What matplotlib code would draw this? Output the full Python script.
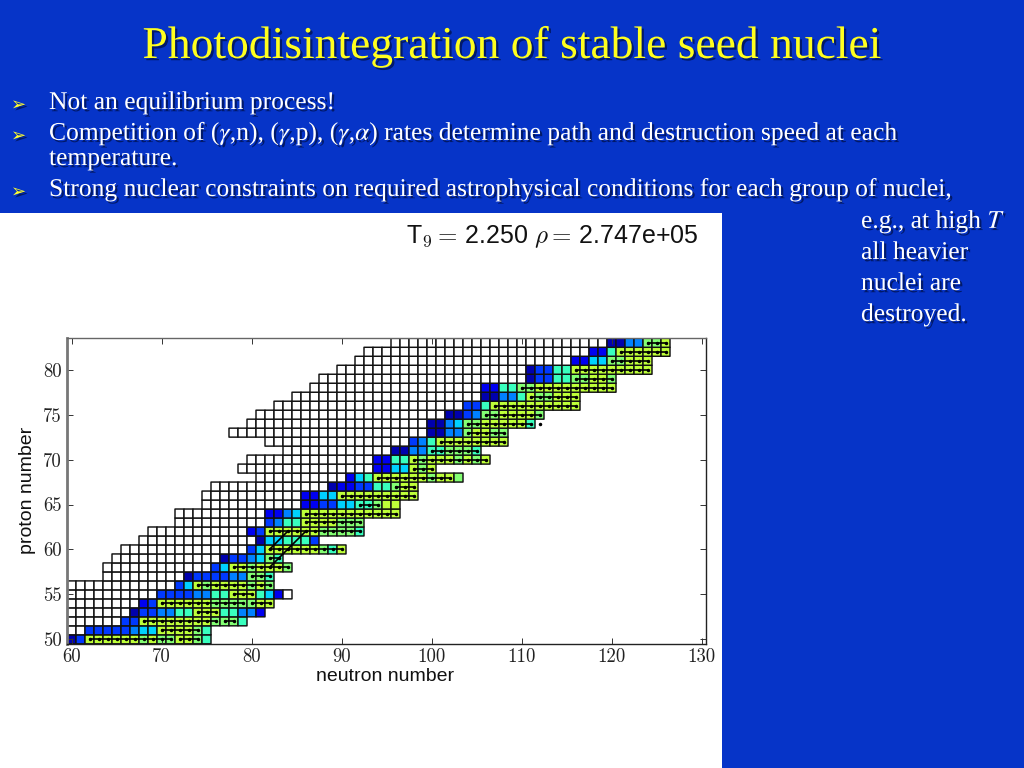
import numpy as np
import matplotlib
matplotlib.use('Agg')
import matplotlib.pyplot as plt
import matplotlib.patheffects as pe
from matplotlib.patches import Rectangle

# proton number of each row of the chart
z_rows = list(range(50, 84))
# first cell of the row, first cell that has a colour
first_n = [60, 60, 60, 60, 60, 60, 60, 64, 64, 65, 66, 68, 69, 72, 72, 75, 75,
           76, 81, 79, 80, 84, 82, 78, 80, 81, 83, 85, 87, 88, 90, 92, 93, 96]
first_col = [60, 62, 66, 67, 68, 70, 72, 73, 76, 77, 80, 81, 80, 82, 82, 86, 86,
             89, 91, 94, 94, 96, 98, 100, 100, 102, 104, 106, 106, 111, 111, 116, 118, 120]
# colour level of the cells from first_col on, 0 is a white cell
levels = ['1388888878778876', '33333455888876', '33888888887776', '133446688866442',
          '238888887777788', '333344668886520', '35878888787', '1333344776',
          '358878887', '1334576', '35888888768', '1556663',
          '2388888877776', '34668888777', '224588888888888', '22335566788',
          '2255888888888', '1223366788', '2568888887887', '2255878',
          '2266878887878', '1144667776', '34688888888', '114478877',
          '114577888886', '11347788887', '3368888888888', '11446877888',
          '226677888888888', '1336677887', '13366888888888', '225577888',
          '226888888', '1144778']
# jet position of a level
level_pos = [-1, 0.04, 0.1, 0.18, 0.25, 0.33, 0.42, 0.51, 0.58]

# black isotope lines: row, from, to
line_z = [50, 50, 51, 52, 52, 53, 54, 54, 55, 56, 57, 58, 59, 60, 62, 63, 64, 65, 66,
          67, 68, 69, 70, 71, 72, 73, 74, 75, 76, 77, 78, 79, 80, 81, 82, 83]
line_from = [62, 72, 70, 68, 77, 74, 70, 80, 78, 74, 80, 78, 82, 82, 82, 86, 86, 92, 90,
             96, 94, 98, 98, 100, 101, 104, 104, 106, 107, 111, 110, 116, 116, 120, 121, 124]
line_to = [71, 74, 74, 76, 78, 76, 79, 82, 80, 82, 82, 84, 83, 90, 92, 92, 96, 94, 98,
           98, 102, 100, 106, 105, 108, 108, 111, 112, 116, 116, 120, 120, 124, 124, 126, 126]
# the two slanted lines near N=82
flow_n = [[82, 84], [82, 86]]
flow_z = [[60, 62], [58, 62]]
lone_n = [112]
lone_z = [74]

x_ticks = [60, 70, 80, 90, 100, 110, 120, 130]
y_ticks = [50, 55, 60, 65, 70, 75, 80]

title = 'Photodisintegration of stable seed nuclei'
bullets = ['Not an equilibrium process!',
           'Competition of ($\\gamma$,n), ($\\gamma$,p), ($\\gamma$,$\\alpha$) rates determine path and destruction speed at each',
           'temperature.',
           'Strong nuclear constraints on required astrophysical conditions for each group of nuclei,']
side_text = ['e.g., at high $T$', 'all heavier', 'nuclei are', 'destroyed.']

W, H = 1024, 768
plt.rcParams['mathtext.fontset'] = 'cm'
blue = '#0634c8'
fig = plt.figure(figsize=(W / 100, H / 100), dpi=100, facecolor=blue)
fig.patches.append(Rectangle((0, 0), 722 / W, (H - 213) / H, transform=fig.transFigure,
                             facecolor='white', edgecolor='none', zorder=-1))

# slide text
shadow = [pe.withSimplePatchShadow(offset=(1.6, -1.6), shadow_rgbFace='#00104a', alpha=0.75)]
def slide_text(x, y, s, size, color='white', **kw):
    kw.setdefault('family', 'Liberation Serif')
    return fig.text(x / W, 1 - y / H, s, fontsize=size, color=color, va='baseline',
                    math_fontfamily='stix', path_effects=shadow, **kw)

slide_text(512, 58, title, 32.8, color='#ffff1e', ha='center')
for y, s in zip([109, 140, 165, 196], bullets):
    slide_text(49, y, s, 18.4)
for y in [109, 140, 196]:
    slide_text(11, y + 1, '\u27a2', 13, color='#ffff30', family='DejaVu Sans')
for y, s in zip([228, 259, 290, 321], side_text):
    slide_text(861, y, s, 18.4)

# chart, 9 px per nucleus
left, right, top, bottom = 67, 706, 338.3, 643.8
ax = fig.add_axes([left / W, 1 - bottom / H, (right - left) / W, (bottom - top) / H], facecolor='white')

n_min = 60
n_max = 130
grid = np.full((len(z_rows), n_max - n_min + 1), np.nan)
for i in range(len(z_rows)):
    grid[i, first_n[i] - n_min:first_col[i] - n_min] = -1
    for j, c in enumerate(levels[i]):
        grid[i, first_col[i] - n_min + j] = level_pos[int(c)]

cmap = plt.get_cmap('jet').copy()
cmap.set_under('white')
n_edges = np.arange(n_min - 0.5, n_max + 1)
z_edges = np.arange(z_rows[0] - 0.5, z_rows[-1] + 1)
ax.pcolor(n_edges, z_edges, np.ma.masked_invalid(grid), cmap=cmap, vmin=0, vmax=1,
          edgecolors='#111111', linewidth=1.05)

for z, a, b in zip(line_z, line_from, line_to):
    ax.plot([a, b], [z, z], '-', color='k', lw=1.2)
    ax.plot(np.arange(a, b + 1), [z] * (b - a + 1), '.', color='k', ms=3)
for n, z in zip(flow_n, flow_z):
    ax.plot(n, z, '-', color='k', lw=1.2)
ax.plot(lone_n, lone_z, '.', color='k', ms=3)

ax.set_xlim(59.5, 130.5)
ax.set_ylim(49.5, 83.5)
ax.set_xticks(x_ticks)
ax.set_yticks(y_ticks)
ax.tick_params(direction='in', top=True, right=True, length=4, width=0.7, color='#333333')
for lab in ax.get_xticklabels() + ax.get_yticklabels():
    lab.set_family('cmr10')
    lab.set_fontsize(13.5)
    lab.set_color('#222222')
ax.tick_params(axis='x', pad=3)
ax.tick_params(axis='y', pad=4)
for side in ax.spines:
    ax.spines[side].set_linewidth(1.0)
    ax.spines[side].set_color('#222222')
ax.spines['left'].set_color('#777777')
ax.spines['left'].set_linewidth(2)
ax.spines['top'].set_color('#666666')

fig.text(385 / W, 1 - 681 / H, 'neutron number', family='Liberation Sans', fontsize=14, ha='center', va='baseline', color='#111111')
fig.text(28 / W, 1 - 490 / H, 'proton number', family='Liberation Sans', fontsize=14, ha='center', va='center', rotation=90, color='#111111')
fig.text(406 / W, 1 - 243 / H, 'T$_{9}=\\,$2.250 $\\rho=\\,$2.747e+05', family='Liberation Sans',
         fontsize=18, ha='left', va='baseline', color='#111111')

fig.savefig('out.png', dpi=100, facecolor=fig.get_facecolor())
